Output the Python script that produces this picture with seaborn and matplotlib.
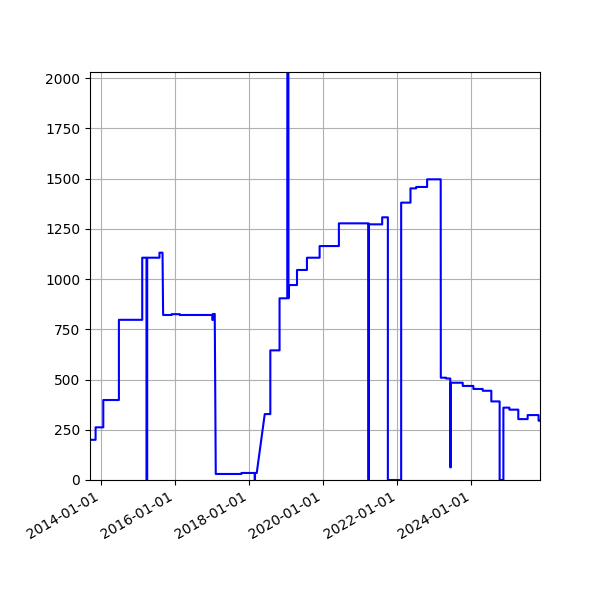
import matplotlib
matplotlib.use("Agg")
import matplotlib.pyplot as plt
import matplotlib.dates as mdates
import pandas as pd
import seaborn as sns

dates = [
    "2013-09-15", "2013-11-09", "2013-11-09", "2014-01-24", "2014-01-24",
    "2014-06-27", "2014-06-27", "2015-02-12", "2015-02-12", "2015-03-26",
    "2015-03-26", "2015-04-02", "2015-04-02", "2015-08-01", "2015-08-01",
    "2015-08-31", "2015-09-06", "2015-11-28", "2015-11-28", "2016-02-18",
    "2016-02-18", "2017-01-05", "2017-01-05", "2017-01-08", "2017-01-08",
    "2017-01-27", "2017-02-06", "2017-10-17", "2017-10-17", "2018-02-25",
    "2018-02-25", "2018-02-28", "2018-02-28", "2018-03-17", "2018-06-04",
    "2018-07-29", "2018-07-29", "2018-10-28", "2018-10-28", "2019-01-12",
    "2019-01-13", "2019-01-23", "2019-01-24", "2019-01-26", "2019-01-26",
    "2019-04-18", "2019-04-18", "2019-07-25", "2019-07-25", "2019-11-27",
    "2019-11-27", "2020-06-04", "2020-06-04", "2021-03-23", "2021-03-23",
    "2021-03-25", "2021-03-25", "2021-08-05", "2021-08-05", "2021-09-30",
    "2021-09-30", "2022-02-08", "2022-02-08", "2022-05-11", "2022-05-11",
    "2022-07-06", "2022-07-06", "2022-10-22", "2022-10-22", "2023-03-05",
    "2023-03-06", "2023-04-27", "2023-04-27", "2023-06-07", "2023-06-07",
    "2023-06-13", "2023-06-13", "2023-10-08", "2023-10-08", "2024-01-21",
    "2024-01-21", "2024-04-22", "2024-04-22", "2024-07-16", "2024-07-16",
    "2024-10-06", "2024-10-06", "2024-11-12", "2024-11-12", "2025-01-10",
    "2025-01-10", "2025-04-08", "2025-04-08", "2025-07-09", "2025-07-09",
    "2025-10-25", "2025-10-25", "2025-11-08",
]
values = [
    200, 200, 262, 262, 398,
    398, 797, 797, 1106, 1106,
    0, 0, 1106, 1106, 1131,
    1131, 821, 821, 825, 825,
    821, 821, 796, 796, 826,
    826, 30, 30, 35, 35,
    0, 0, 35, 35, 328,
    328, 645, 645, 904, 904,
    2300, 2300, 904, 904, 970,
    970, 1045, 1045, 1106, 1106,
    1164, 1164, 1277, 1277, 0,
    0, 1272, 1272, 1307, 1307,
    0, 0, 1380, 1380, 1451,
    1451, 1458, 1458, 1496, 1496,
    509, 509, 505, 505, 63,
    63, 484, 484, 468, 468,
    453, 453, 444, 444, 391,
    391, 0, 0, 360, 360,
    350, 350, 303, 303, 323,
    323, 295, 295,
]

df = pd.DataFrame({"date": pd.to_datetime(dates), "value": values})

fig, ax = plt.subplots(figsize=(6, 6), dpi=100)
fig.subplots_adjust(left=0.15, right=0.9, bottom=0.2, top=0.88)
sns.lineplot(data=df, x="date", y="value", ax=ax, estimator=None, sort=False,
             color="blue", linewidth=1.5)
ax.set_xlabel("")
ax.set_ylabel("")
ax.set_xlim(df["date"].min(), df["date"].max())
ax.set_ylim(0, 2030)
ax.xaxis.set_major_locator(mdates.YearLocator(2))
ax.xaxis.set_major_formatter(mdates.DateFormatter("%Y-%m-%d"))
ax.grid(True)
for lab in ax.get_xticklabels():
    lab.set_rotation(30)
    lab.set_ha("right")
fig.savefig("out.png", dpi=100)
